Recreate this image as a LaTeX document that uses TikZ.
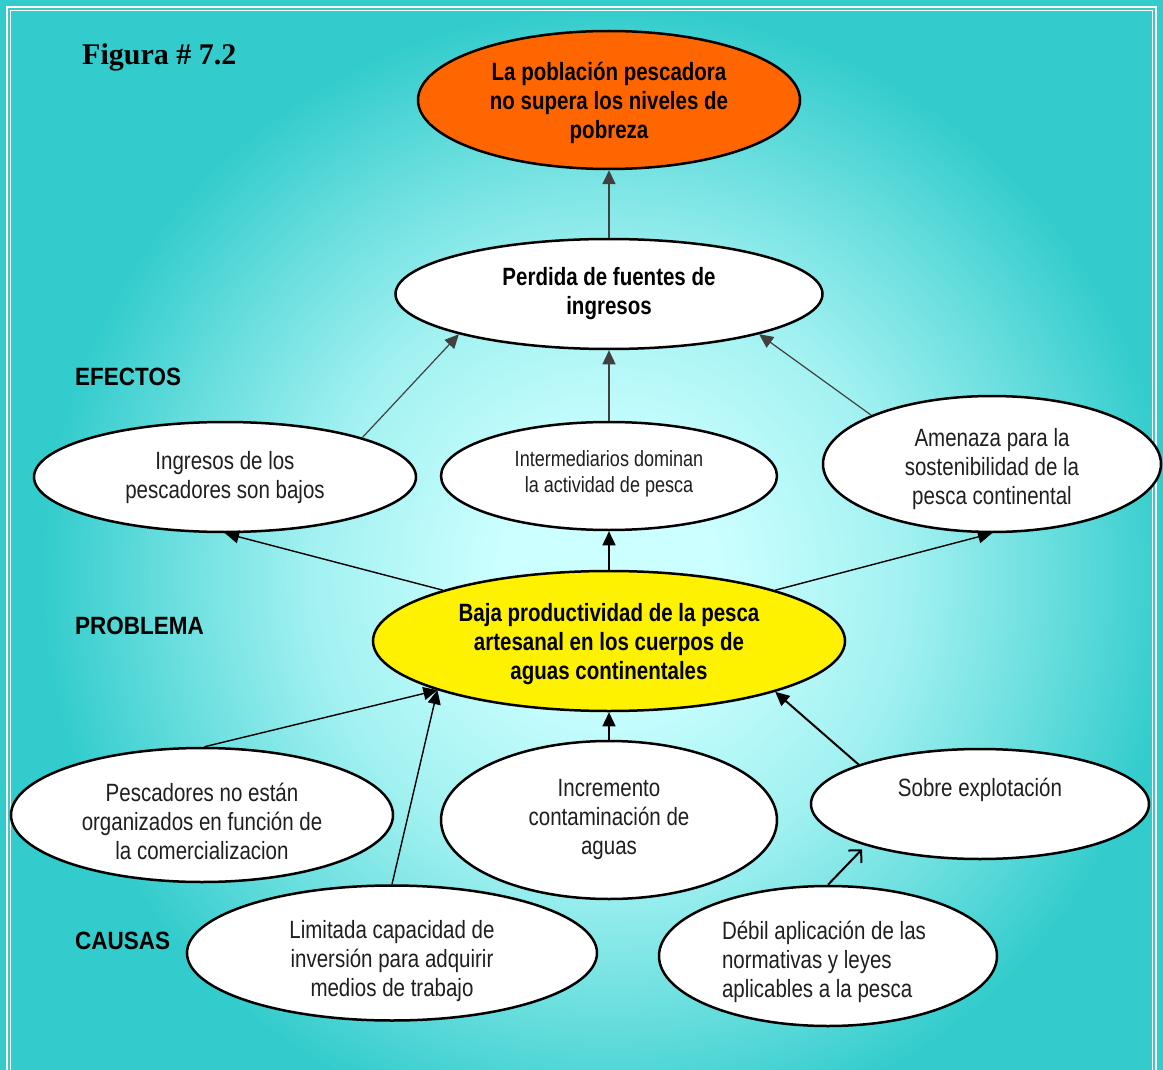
\documentclass[tikz,border=0pt]{standalone}
\usepackage{fontspec}
\usetikzlibrary{shapes.geometric,arrows.meta}
\newfontfamily\nar[FakeStretch=0.82]{Liberation Sans}
\newfontfamily\labfont[FakeStretch=0.9]{Liberation Sans}
\newfontfamily\figfont{Liberation Serif}
\definecolor{glowin}{HTML}{CCFFFF}
\definecolor{glowout}{HTML}{33CCCC}
\definecolor{orangefill}{HTML}{FF6600}
\definecolor{arrowgray}{HTML}{404040}
\colorlet{glowmidA}{glowin!72!glowout}
\colorlet{glowmidB}{glowin!35!glowout}
% soft glow behind the diagram, used at its natural size
\pgfdeclareradialshading{bgglow}{\pgfpoint{0bp}{0bp}}{color(0bp)=(glowin); color(110bp)=(glowin); color(300bp)=(glowmidA); color(440bp)=(glowmidB); color(565bp)=(glowout); color(900bp)=(glowout)}
\tikzset{
  bub/.style={ellipse, draw=black, line width=2.5pt, fill=white, inner sep=0pt},
  txt/.style={inner sep=0pt, align=center, text=black!88, font=\nar\fontsize{25}{29}\selectfont},
  keytxt/.style={txt, text=black, font=\nar\bfseries\fontsize{25}{29}\selectfont},
  rowlabel/.style={anchor=base west, inner sep=0pt, font=\labfont\bfseries\fontsize{25}{29}\selectfont},
  link/.style={line width=1.4pt, -{Triangle[length=14pt,width=13pt]}},
  glink/.style={link, color=arrowgray, line width=1.2pt},
}
\begin{document}
\begin{tikzpicture}[x=1pt,y=-1pt]
\useasboundingbox (0,0) rectangle (1163,1070);
% background and frame
\fill[glowout] (0,0) rectangle (1163,1070);
\begin{scope}
  \clip (11,11) rectangle (1152,1075);
  \node[inner sep=0pt, outer sep=0pt] (glow) at (609,575) {\pgfuseshading{bgglow}};
\end{scope}
\draw[white, line width=2pt] (7,1080) -- (7,7) -- (1156,7) -- (1156,1080);
\draw[white, line width=1pt] (10.5,1080) -- (10.5,10.5) -- (1152.5,10.5) -- (1152.5,1080);

% title and row labels
\node[anchor=base west, inner sep=0pt, font=\figfont\bfseries\fontsize{30}{34}\selectfont] (fig) at (82,65) {Figura \# 7.2};
\node[rowlabel] (efectos) at (75,385) {EFECTOS};
\node[rowlabel] (problema) at (75,634) {PROBLEMA};
\node[rowlabel] (causas) at (75,949) {CAUSAS};

% effects
\node[bub, fill=orangefill, minimum width=382, minimum height=138] (meta) at (609,100) {};
\node[keytxt] (meta-t) at (609,103) {La población pescadora\\no supera los niveles de\\pobreza};
\node[bub, minimum width=427, minimum height=110] (perd) at (609,294) {};
\node[keytxt] (perd-t) at (609,293.5) {Perdida de fuentes de\\ingresos};
\node[bub, minimum width=382, minimum height=110] (ingr) at (225,477) {};
\node[txt] (ingr-t) at (225,477.5) {Ingresos de los\\pescadores son bajos};
\node[bub, minimum width=336, minimum height=108] (inter) at (609,476) {};
\node[txt, font=\nar\fontsize{22}{26}\selectfont] (inter-t) at (609,474) {Intermediarios dominan\\la actividad de pesca};
\node[bub, minimum width=338, minimum height=136] (amen) at (992,464) {};
\node[txt] (amen-t) at (992,469) {Amenaza para la\\sostenibilidad de la\\pesca continental};

% problem
\node[bub, fill=yellow, minimum width=472, minimum height=140] (prob) at (609,641) {};
\node[keytxt] (prob-t) at (609,644) {Baja productividad de la pesca\\artesanal en los cuerpos de\\aguas continentales};

% causes
\node[bub, minimum width=382, minimum height=134] (pesc) at (202,815) {};
\node[txt] (pesc-t) at (202,821.5) {Pescadores no están\\organizados en función de\\la comercializacion};
\node[bub, minimum width=336, minimum height=158] (incr) at (609,820) {};
\node[txt] (incr-t) at (609,819) {Incremento\\contaminación de\\aguas};
\node[bub, minimum width=338, minimum height=110] (sobre) at (980,804) {};
\node[txt] (sobre-t) at (980,790) {Sobre explotación};
\node[bub, minimum width=410, minimum height=135] (limi) at (392,953) {};
\node[txt] (limi-t) at (392,961) {Limitada capacidad de\\inversión para adquirir\\medios de trabajo};
\node[bub, minimum width=338, minimum height=140] (debil) at (828,956) {};
\node[txt, align=left] (debil-t) at (824,962) {Débil aplicación de las\\normativas y leyes\\aplicables a la pesca};

% connectors
\draw[glink, line width=1.8pt] (perd.north) -- (meta.south);
\draw[glink] (ingr.16) -- (perd.195);
\draw[glink] (inter.north) -- (perd.south);
\draw[glink] (amen.158) -- (perd.345);
\draw[link] (prob.163) -- (ingr.south);
\draw[link] (prob.north) -- (inter.south);
\draw[link] (prob.17) -- (amen.south);
\draw[link] (pesc.88) -- (prob.196);
\draw[link] (limi.north) -- (prob.196);
\draw[link] (incr.north) -- (prob.south);
\draw[link, line width=2pt] (sobre.162) -- (prob.343);
\draw[line width=2pt, -{Straight Barb[length=9pt,width=18pt]}, shorten >=5pt] (debil.north) -- (sobre.200);
\end{tikzpicture}
\end{document}
